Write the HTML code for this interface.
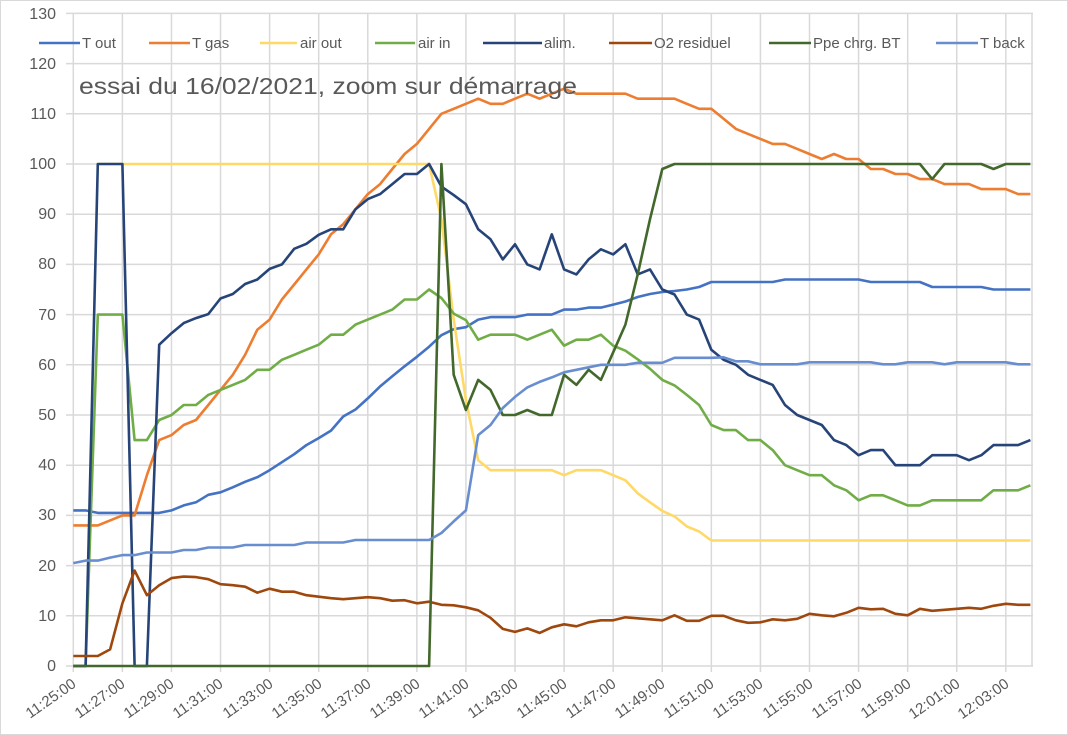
<!DOCTYPE html>
<html><head><meta charset="utf-8"><style>
html,body{margin:0;padding:0;background:#fff;}
svg{display:block;font-family:"Liberation Sans",sans-serif;}
</style></head><body>
<svg id="c" width="1068" height="735" viewBox="0 0 1068 735" xmlns="http://www.w3.org/2000/svg">
<rect x="0.5" y="0.5" width="1067" height="734" fill="#fff" stroke="#d9d9d9"/>
<g id="grid" stroke="#d9d9d9" stroke-width="1.5"></g>
<g id="ylab" fill="#595959" font-size="16" text-anchor="end">
<text x="56" y="671">0</text><text x="56" y="621">10</text><text x="56" y="571">20</text><text x="56" y="520">30</text><text x="56" y="470">40</text><text x="56" y="420">50</text><text x="56" y="370">60</text><text x="56" y="320">70</text><text x="56" y="269">80</text><text x="56" y="219">90</text><text x="56" y="169">100</text><text x="56" y="119">110</text><text x="56" y="69">120</text><text x="56" y="19">130</text>
</g>
<g id="xlab" fill="#595959" font-size="15" text-anchor="end">
<text transform="translate(77,686) rotate(-35)">11:25:00</text>
<text transform="translate(126,686) rotate(-35)">11:27:00</text>
<text transform="translate(175,686) rotate(-35)">11:29:00</text>
<text transform="translate(224,686) rotate(-35)">11:31:00</text>
<text transform="translate(274,686) rotate(-35)">11:33:00</text>
<text transform="translate(323,686) rotate(-35)">11:35:00</text>
<text transform="translate(372,686) rotate(-35)">11:37:00</text>
<text transform="translate(421,686) rotate(-35)">11:39:00</text>
<text transform="translate(470,686) rotate(-35)">11:41:00</text>
<text transform="translate(519,686) rotate(-35)">11:43:00</text>
<text transform="translate(568,686) rotate(-35)">11:45:00</text>
<text transform="translate(617,686) rotate(-35)">11:47:00</text>
<text transform="translate(666,686) rotate(-35)">11:49:00</text>
<text transform="translate(715,686) rotate(-35)">11:51:00</text>
<text transform="translate(764,686) rotate(-35)">11:53:00</text>
<text transform="translate(814,686) rotate(-35)">11:55:00</text>
<text transform="translate(863,686) rotate(-35)">11:57:00</text>
<text transform="translate(912,686) rotate(-35)">11:59:00</text>
<text transform="translate(961,686) rotate(-35)">12:01:00</text>
<text transform="translate(1010,686) rotate(-35)">12:03:00</text>
</g>
<g id="series" fill="none" stroke-width="2.6" stroke-linejoin="round"></g>
<g id="legend" font-size="15" fill="#595959" stroke-width="2.6">
<line x1="39" y1="43" x2="80" y2="43" stroke="#4472C4"/><text x="82" y="48">T out</text>
<line x1="149" y1="43" x2="190" y2="43" stroke="#ED7D31"/><text x="192" y="48">T gas</text>
<line x1="260" y1="43" x2="297" y2="43" stroke="#FFD966"/><text x="300" y="48">air out</text>
<line x1="375" y1="43" x2="415" y2="43" stroke="#70AD47"/><text x="418" y="48">air in</text>
<line x1="483" y1="43" x2="542" y2="43" stroke="#264478"/><text x="544" y="48">alim.</text>
<line x1="609" y1="43" x2="652" y2="43" stroke="#9E480E"/><text x="654" y="48">O2 residuel</text>
<line x1="769" y1="43" x2="811" y2="43" stroke="#43682B"/><text x="813" y="48">Ppe chrg. BT</text>
<line x1="936" y1="43" x2="978" y2="43" stroke="#698ED0"/><text x="980" y="48">T back</text>
</g>
<text x="79" y="94" font-size="23" fill="#595959" textLength="498" lengthAdjust="spacingAndGlyphs">essai du 16/02/2021, zoom sur démarrage</text>
</svg>
<script>
(function(){
var NS="http://www.w3.org/2000/svg";
function X(i){return 73.3+12.27*i;}
function Y(v){return 666-5.02*v;}
var g=document.getElementById("grid");
for(var v=0;v<=130;v+=10){var l=document.createElementNS(NS,"line");l.setAttribute("x1",66);l.setAttribute("x2",1033);l.setAttribute("y1",Y(v));l.setAttribute("y2",Y(v));g.appendChild(l);}
for(var k=0;k<=19;k++){var x=73.3+49.08*k;var l=document.createElementNS(NS,"line");l.setAttribute("x1",x);l.setAttribute("x2",x);l.setAttribute("y1",Y(130));l.setAttribute("y2",672);g.appendChild(l);}
var l2=document.createElementNS(NS,"line");l2.setAttribute("x1",1032);l2.setAttribute("x2",1032);l2.setAttribute("y1",Y(130));l2.setAttribute("y2",666);g.appendChild(l2);
function rep(v,n){var a=[];for(var i=0;i<n;i++)a.push(v);return a;}
var S=[
["#4472C4",0,[31,31,30.5,30.5,30.5,30.5,30.5,30.5,31,32,32.6,34.1,34.6,35.6,36.7,37.6,39,40.6,42.2,44,45.4,46.9,49.7,51.1,53.3,55.7,57.7,59.7,61.6,63.6,65.9,67.1,67.5,69,69.5,69.5,69.5,70,70,70,71,71,71.4,71.4,72,72.6,73.5,74.1,74.5,74.7,75,75.5,76.5,76.5,76.5,76.5,76.5,76.5,77,77,77,77,77,77,77,76.5,76.5,76.5,76.5,76.5,75.5,75.5,75.5,75.5,75.5,75,75,75,75]],
["#ED7D31",0,[28,28,28,29,30,30,38,45,46,48,49,52,55,58,62,67,69,73,76,79,82,86,88,91,94,96,99,102,104,107,110,111,112,113,112,112,113,114,113,114,115,114,114,114,114,114,113,113,113,113,112,111,111,109,107,106,105,104,104,103,102,101,102,101,101,99,99,98,98,97,97,96,96,96,95,95,95,94,94]],
["#FFD966",2,rep(100,28).concat([89,69,53,41,39,39,39,39,39,39,38,39,39,39,38,37,34.4,32.6,30.9,29.8,27.8,26.8]).concat(rep(25,27))],
["#70AD47",0,[0,0,70,70,70,45,45,49,50,52,52,54,55,56,57,59,59,61,62,63,64,66,66,68,69,70,71,73,73,75,73.3,70.2,68.9,65,66,66,66,65,66,67,63.8,65,65,66,63.8,62.8,61.1,59.2,57,55.9,54,52,48,47,47,45,45,43,40,39,38,38,36,35,33,34,34,33,32,32,33,33,33,33,33,35,35,35,36]],
["#264478",0,[0,0,100,100,100,0,0,64,66.3,68.3,69.3,70.1,73.2,74.1,76.1,77,79.1,80,83.1,84.1,85.9,87,87,91,93,94,96,98,98,100,95.5,93.8,92,87,85,81,84,80,79,86,79,78,81,83,82,84,78,79,75,74,70,69,63,61,60,58,57,56,52,50,49,48,45,44,42,43,43,40,40,40,42,42,42,41,42,44,44,44,45]],
["#9E480E",0,[2,2,2,3.3,12.5,19,14.1,16.1,17.5,17.8,17.7,17.3,16.3,16.1,15.8,14.6,15.4,14.8,14.8,14.1,13.8,13.5,13.3,13.5,13.7,13.5,13,13.1,12.5,12.8,12.2,12.1,11.7,11.1,9.6,7.4,6.8,7.5,6.6,7.7,8.3,7.9,8.7,9.1,9.1,9.7,9.5,9.3,9.1,10.1,9,9,10,10,9.1,8.6,8.7,9.3,9.1,9.4,10.4,10.1,9.9,10.6,11.6,11.3,11.4,10.4,10.1,11.4,11,11.2,11.4,11.6,11.4,12,12.4,12.2,12.2]],
["#43682B",0,rep(0,30).concat([100,58,51,57,55,50,50,51,50,50,58,56,59,57,62.5,68,78,89,99]).concat(rep(100,21)).concat([97,100,100,100,100,99,100,100,100])],
["#698ED0",0,[20.5,21,21,21.6,22.1,22.1,22.6,22.6,22.6,23.1,23.1,23.6,23.6,23.6,24.1,24.1,24.1,24.1,24.1,24.6,24.6,24.6,24.6,25.1,25.1,25.1,25.1,25.1,25.1,25.1,26.5,28.8,31,46,48,51.4,53.6,55.5,56.6,57.5,58.5,59,59.5,60,60,60,60.4,60.4,60.4,61.4,61.4,61.4,61.4,61.5,60.7,60.7,60.1,60.1,60.1,60.1,60.5,60.5,60.5,60.5,60.5,60.5,60.1,60.1,60.5,60.5,60.5,60.1,60.5,60.5,60.5,60.5,60.5,60.1,60.1]]
];
var sg=document.getElementById("series");
S.forEach(function(s){var p=[];for(var j=0;j<s[2].length;j++){p.push(X(s[1]+j).toFixed(1)+","+Y(s[2][j]).toFixed(1));}
var pl=document.createElementNS(NS,"polyline");pl.setAttribute("points",p.join(" "));pl.setAttribute("stroke",s[0]);sg.appendChild(pl);});
})();
</script>
</body></html>
